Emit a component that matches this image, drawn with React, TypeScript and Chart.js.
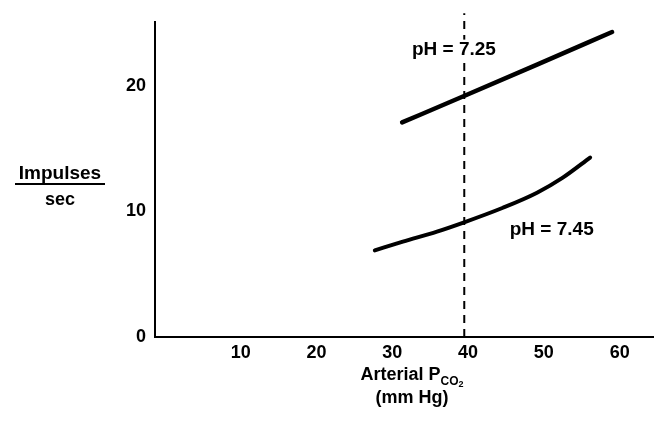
import { useEffect, useRef } from 'react';
import { Chart, registerables } from 'chart.js';

Chart.register(...registerables);

const FONT = '"Liberation Sans", Arial, Helvetica, sans-serif';

// ---- data ----
const X_TICKS = [10, 20, 30, 40, 50, 60];
const Y_TICKS = [0, 10, 20];

// pH = 7.25 curve (Arterial PCO2 mm Hg -> impulses/sec)
const PH725_X = [31.3, 38.7, 49.1, 59.0];
const PH725_Y = [17.1, 19.0, 21.7, 24.3];

// pH = 7.45 curve
const PH745_X = [27.7, 31.4, 35.9, 39.3, 44.6, 49.1, 52.5, 56.1];
const PH745_Y = [6.9, 7.6, 8.4, 9.1, 10.3, 11.5, 12.7, 14.3];

// normal arterial PCO2 reference (dashed vertical line)
const REF_PCO2 = 39.5;
const REF_LINE_Y = [0, 25.8];

const CURVE_LABELS = [
  { text: 'pH = 7.25', x: 32.6, y: 22.9 },
  { text: 'pH = 7.45', x: 45.5, y: 8.55 },
];

const textPlugin = {
  id: 'figureText',
  afterDatasetsDraw(chart: any) {
    const { ctx, scales } = chart;
    const xs = scales.x;
    const ys = scales.y;
    ctx.save();
    ctx.textBaseline = 'middle';
    ctx.textAlign = 'left';
    ctx.font = `bold 19px ${FONT}`;
    for (const l of CURVE_LABELS) {
      const px = xs.getPixelForValue(l.x);
      const py = ys.getPixelForValue(l.y);
      const w = ctx.measureText(l.text).width;
      ctx.fillStyle = '#fff';
      ctx.fillRect(px - 2, py - 10, w + 4, 20);
      ctx.fillStyle = '#000';
      ctx.fillText(l.text, px, py);
    }

    // y-axis title: Impulses / sec
    ctx.textBaseline = 'alphabetic';
    ctx.textAlign = 'center';
    ctx.fillStyle = '#000';
    ctx.font = `bold 19px ${FONT}`;
    ctx.fillText('Impulses', 60, 179);
    ctx.fillRect(15, 183, 90, 2);
    ctx.font = `bold 18px ${FONT}`;
    ctx.fillText('sec', 60, 205);

    // x-axis title: Arterial P_CO2 (mm Hg)
    ctx.textAlign = 'left';
    const mainT = 'Arterial P';
    ctx.font = `bold 18px ${FONT}`;
    const w1 = ctx.measureText(mainT).width;
    ctx.font = `bold 12px ${FONT}`;
    const w2 = ctx.measureText('CO').width;
    ctx.font = `bold 9px ${FONT}`;
    const w3 = ctx.measureText('2').width;
    const total = w1 + w2 + w3;
    let sx = 412 - total / 2;
    ctx.font = `bold 18px ${FONT}`;
    ctx.fillText(mainT, sx, 380);
    sx += w1;
    ctx.font = `bold 12px ${FONT}`;
    ctx.fillText('CO', sx, 385);
    sx += w2;
    ctx.font = `bold 9px ${FONT}`;
    ctx.fillText('2', sx, 387);
    ctx.textAlign = 'center';
    ctx.font = `bold 18px ${FONT}`;
    ctx.fillText('(mm Hg)', 412, 403);
    ctx.restore();
  },
};

export default function App() {
  const ref = useRef<HTMLCanvasElement>(null);
  useEffect(() => {
    const chart = new Chart(ref.current as HTMLCanvasElement, {
      type: 'line',
      data: {
        datasets: [
          {
            label: 'pH = 7.25',
            data: PH725_X.map((x, i) => ({ x, y: PH725_Y[i] })),
            borderColor: '#000',
            borderWidth: 4.5,
            pointRadius: 0,
            cubicInterpolationMode: 'monotone',
            borderCapStyle: 'round',
            fill: false,
          },
          {
            label: 'pH = 7.45',
            data: PH745_X.map((x, i) => ({ x, y: PH745_Y[i] })),
            borderColor: '#000',
            borderWidth: 4,
            pointRadius: 0,
            cubicInterpolationMode: 'monotone',
            borderCapStyle: 'round',
            fill: false,
          },
          {
            label: 'ref',
            data: REF_LINE_Y.map((y) => ({ x: REF_PCO2, y })),
            borderColor: '#000',
            borderWidth: 2,
            borderDash: [8, 6],
            pointRadius: 0,
            fill: false,
            clip: false,
          } as any,
        ],
      },
      options: {
        animation: false,
        responsive: false,
        devicePixelRatio: 1,
        layout: { padding: { top: 22, left: 0, right: 0, bottom: 0 } },
        plugins: {
          legend: { display: false },
          tooltip: { enabled: false },
        },
        scales: {
          x: {
            type: 'linear',
            min: -1.3,
            max: 64.53,
            grid: { display: false, drawTicks: false },
            border: { display: true, color: '#000', width: 2 },
            ticks: {
              color: '#000',
              font: { family: FONT, size: 18, weight: 'bold' },
              padding: 5,
              maxRotation: 0,
              autoSkip: false,
            },
            afterBuildTicks: (s: any) => {
              s.ticks = X_TICKS.map((v) => ({ value: v }));
            },
            afterFit: (s: any) => {
              s.height = 84;
            },
          },
          y: {
            type: 'linear',
            min: 0,
            max: 25.1,
            grid: { display: false, drawTicks: false },
            border: { display: true, color: '#000', width: 2 },
            ticks: {
              color: '#000',
              font: { family: FONT, size: 18, weight: 'bold' },
              padding: 9,
              autoSkip: false,
            },
            afterBuildTicks: (s: any) => {
              s.ticks = Y_TICKS.map((v) => ({ value: v }));
            },
            afterFit: (s: any) => {
              s.width = 155;
            },
          },
        },
      } as any,
      plugins: [textPlugin],
    });
    return () => chart.destroy();
  }, []);
  return (
    <div style={{ position: 'absolute', left: 0, top: 0, width: 654, height: 421, background: '#fff' }}>
      <canvas ref={ref} width={654} height={421} style={{ display: 'block', width: 654, height: 421 }} />
    </div>
  );
}
